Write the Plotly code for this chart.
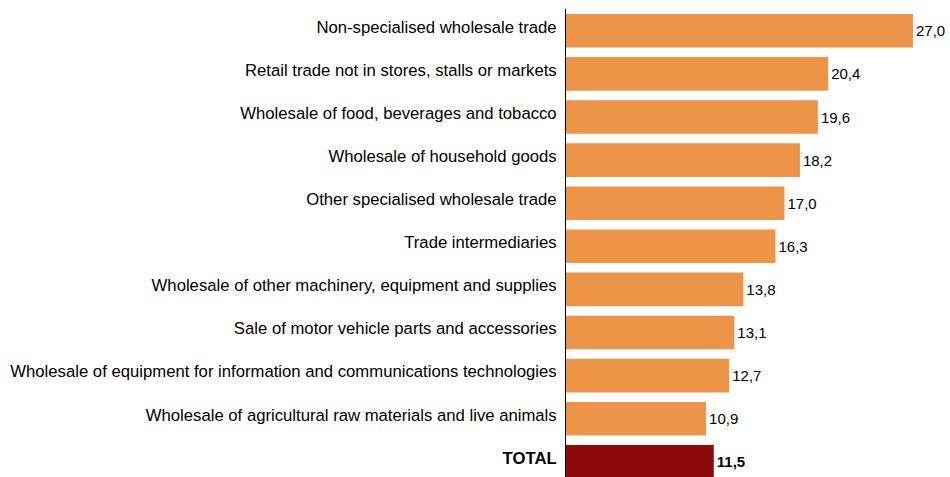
import plotly.graph_objects as go

categories = [
    "Non-specialised wholesale trade",
    "Retail trade not in stores, stalls or markets",
    "Wholesale of food, beverages and tobacco",
    "Wholesale of household goods",
    "Other specialised wholesale trade",
    "Trade intermediaries",
    "Wholesale of other machinery, equipment and supplies",
    "Sale of motor vehicle parts and accessories",
    "Wholesale of equipment for information and communications technologies",
    "Wholesale of agricultural raw materials and live animals",
    "TOTAL",
]
values = [27.0, 20.4, 19.6, 18.2, 17.0, 16.3, 13.8, 13.1, 12.7, 10.9, 11.5]

colors = ["#ED9448"] * (len(values) - 1) + ["#8B0A0A"]
templates = ["%{x:.1f}"] * (len(values) - 1) + ["<b>%{x:.1f}</b>"]
ticktext = categories[:-1] + ["<b>" + categories[-1] + "</b>"]

fig = go.Figure(go.Bar(
    x=values,
    y=list(range(len(categories))),
    orientation="h",
    marker=dict(color=colors, line=dict(width=0)),
    width=0.78,
    texttemplate=templates,
    textposition="outside",
    textfont=dict(family="Liberation Sans, Arial", size=15, color="#000000"),
    cliponaxis=False,
    hoverinfo="skip",
))

fig.update_layout(
    width=950, height=477,
    margin=dict(l=566, r=0, t=9, b=0),
    paper_bgcolor="white", plot_bgcolor="white",
    separators=",.",
    showlegend=False,
    font=dict(family="Liberation Sans, Arial", size=16.7, color="#000000"),
    xaxis=dict(range=[0, 29.88], showgrid=False, zeroline=False,
               showticklabels=False, showline=False, ticks=""),
    yaxis=dict(range=[10.353, -0.506], tickmode="array",
               tickvals=list(range(len(categories))), ticktext=ticktext,
               showgrid=False, zeroline=False, showline=True,
               linecolor="#000000", linewidth=1, ticks="", ticklabelstandoff=5,
               ticklabelshift=4,
               tickfont=dict(family="Liberation Sans, Arial", size=16.7, color="#000000")),
)

fig.write_html(
    "out.html",
    config={"displayModeBar": False},
    post_script="document.body.style.margin='0';document.body.style.overflow='hidden';",
)
